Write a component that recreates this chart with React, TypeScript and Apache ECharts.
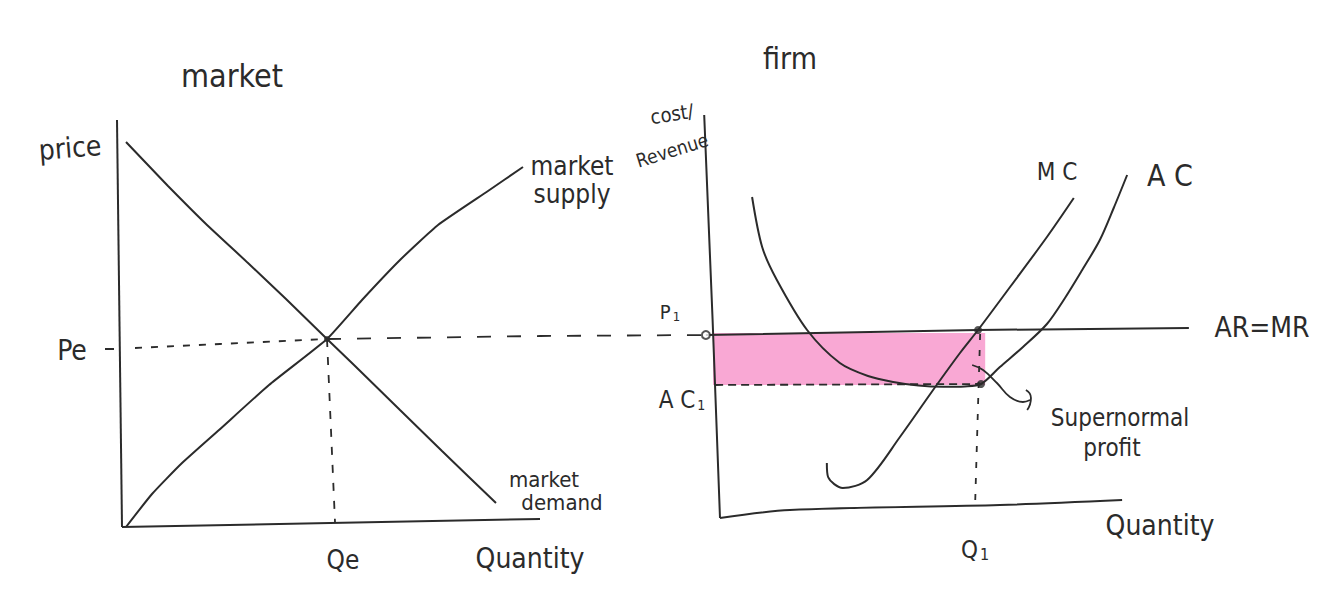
import React, { useEffect, useRef } from "react";
import * as echarts from "echarts";

// ---- Market panel (left) : quantity 0..152, price 0..105 ----
const marketYAxisLine = [[4.25, 102.5], [5.5, 0.75]];
const marketXAxisLine = [[5.5, 0.75], [57.5, 1.75], [110, 2.75]];
const marketDemand = [
  [6.5, 97], [11.75, 91.5], [17, 86], [26.5, 76.5], [37, 66.75], [46.5, 57.75],
  [56.75, 47.75], [63.5, 41.25], [75, 30], [85.5, 19.75], [99, 6.75],
];
const marketSupply = [
  [6.5, 0.75], [13, 9], [20.25, 16.5], [29.75, 25], [42.25, 36.25], [56.75, 47.75],
  [65.5, 57.5], [75, 67.5], [84.5, 76.25], [97, 84.75], [105.75, 90.75],
];
const equilibrium = [56.75, 47.75];
const peDashLeft = [[8.75, 45.5], [30, 46.5], [56.75, 47.75]];
const peDashRight = [[56.75, 47.75], [110, 48.5], [151.5, 48.75]];
const qeDash = [[56.75, 47.75], [58.75, 2]];
const peTick = [[1.25, 45.25], [3.5, 45.25]];

// ---- Firm panel (right) : quantity 0..120, cost/revenue 0..100 ----
const firmYAxisLine = [[1, 101.25], [3, 50], [4.76, 0.5]];
const firmXAxisLine = [[4.76, 0.5], [21.4, 2.5], [71.4, 3.75], [100.5, 5]];
const arMr = [[1.4, 46.25], [66.2, 47.5], [116.4, 48]];
const mc = [
  [30.2, 14.25], [30.5, 10.75], [34, 8], [39.8, 10], [47.6, 20.75], [55.5, 32.5], [61.9, 41.75],
  [66.2, 47.5], [74, 58.5], [82.6, 70.75], [89, 80.5],
];
const ac = [
  [12.4, 80.75], [14.8, 68.25], [18.3, 60], [25.5, 47.5], [33.3, 39.25], [40, 36], [46, 34.5],
  [52, 33.6], [58, 33.3], [63, 33.4], [66.9, 34], [71.4, 38.25], [76.9, 43.25], [82.6, 49],
  [86.9, 55.5], [91, 62.5], [95.2, 70], [98.5, 78], [101.7, 86.25],
];
const p1Point = [1.4, 46.25];
const q1Point = [66.2, 47.5];
const ac1Point = [66.9, 34];
const ac1Dash = [[3.6, 33.75], [66.9, 34]];
const q1Dash = [[66.7, 46.5], [65.5, 3.75]];
const profitBox = [[3.1, 46.75], [67.9, 33.75]];
const profitArrow = [[64.8, 38.75], [67.4, 37.5], [70.7, 34.25], [73.8, 30.75], [76.9, 29.5], [78.6, 30]];
const profitArrowHead = [[77.6, 32.5], [78.8, 30.5], [77.9, 27.5]];

const INK = "#2b2b2b";
const FONT = "'Liberation Sans Narrow','DejaVu Sans Condensed','Open Sans',sans-serif";

function line(data: number[][], idx: number, opts: any = {}) {
  return {
    type: "line",
    xAxisIndex: idx,
    yAxisIndex: idx,
    data,
    smooth: opts.smooth ?? 0.35,
    symbol: "none",
    clip: false,
    silent: true,
    z: 3,
    lineStyle: { color: INK, width: opts.width ?? 2, type: opts.type ?? "solid" },
  };
}

function txt(text: string, x: number, y: number, size: number, extra: any = {}) {
  return {
    type: "text",
    x,
    y,
    style: {
      text,
      fontFamily: FONT,
      fontSize: size,
      fill: INK,
      align: "center",
      verticalAlign: "middle",
      lineHeight: extra.lineHeight ?? size,
    },
    rotation: extra.rotation ?? 0,
  };
}

function sub(main: string, idx: string, x: number, y: number, size: number, subSize: number, pad: number) {
  return {
    type: "text",
    x,
    y,
    style: {
      text: `{a|${main}}{b|${idx}}`,
      fontFamily: FONT,
      fill: INK,
      align: "center",
      verticalAlign: "middle",
      rich: {
        a: { fontSize: size, fontFamily: FONT, fill: INK },
        b: { fontSize: subSize, fontFamily: FONT, fill: INK, padding: [pad, 0, 0, 2] },
      },
    },
  };
}

export default function App() {
  const ref = useRef<HTMLDivElement>(null);
  useEffect(() => {
    document.body.style.margin = "0";
    const chart = echarts.init(ref.current!, null, { renderer: "svg" });
    chart.setOption({
      animation: false,
      backgroundColor: "#ffffff",
      grid: [
        { left: 100, top: 110, width: 608, height: 420 },
        { left: 700, top: 120, width: 504, height: 400 },
      ],
      xAxis: [
        { type: "value", gridIndex: 0, min: 0, max: 152, show: false },
        { type: "value", gridIndex: 1, min: 0, max: 120, show: false },
      ],
      yAxis: [
        { type: "value", gridIndex: 0, min: 0, max: 105, show: false },
        { type: "value", gridIndex: 1, min: 0, max: 100, show: false },
      ],
      series: [
        {
          type: "line",
          xAxisIndex: 1,
          yAxisIndex: 1,
          data: [],
          z: 1,
          markArea: {
            silent: true,
            itemStyle: { color: "#f9a8d4", opacity: 1 },
            data: [[{ coord: profitBox[0] }, { coord: profitBox[1] }]],
          },
        },
        line(marketYAxisLine, 0, { smooth: false }),
        line(marketXAxisLine, 0, { smooth: false }),
        line(marketDemand, 0, { smooth: 0.15 }),
        line(marketSupply, 0, { smooth: 0.15 }),
        line(peDashLeft, 0, { type: [7, 9], width: 1.8, smooth: false }),
        line(peDashRight, 0, { type: [14, 16], width: 1.8, smooth: false }),
        line(qeDash, 0, { type: [8, 10], width: 1.8, smooth: false }),
        line(peTick, 0, { smooth: false }),
        {
          type: "scatter",
          xAxisIndex: 0,
          yAxisIndex: 0,
          data: [equilibrium],
          symbolSize: 6,
          itemStyle: { color: INK },
          silent: true,
          z: 4,
        },
        line(firmYAxisLine, 1, { smooth: false }),
        line(firmXAxisLine, 1, { smooth: 0.3 }),
        line(arMr, 1, { smooth: false }),
        line(mc, 1, { smooth: 0.3 }),
        line(ac, 1, { smooth: 0.3 }),
        line(ac1Dash, 1, { type: [8, 5], width: 1.8, smooth: false }),
        line(q1Dash, 1, { type: [6, 10], width: 1.8, smooth: false }),
        line(profitArrow, 1, { smooth: 0.4, width: 1.8 }),
        line(profitArrowHead, 1, { smooth: 0.6, width: 1.8 }),
        {
          type: "scatter",
          xAxisIndex: 1,
          yAxisIndex: 1,
          data: [q1Point, ac1Point],
          symbolSize: 8,
          itemStyle: { color: INK },
          silent: true,
          z: 4,
        },
        {
          type: "scatter",
          xAxisIndex: 1,
          yAxisIndex: 1,
          data: [p1Point],
          symbol: "emptyCircle",
          symbolSize: 8,
          itemStyle: { color: INK, borderColor: INK, borderWidth: 2 },
          silent: true,
          z: 4,
        },
      ],
      graphic: [
        txt("market", 232, 76, 32),
        txt("price", 70, 148, 28, { rotation: 0.08 }),
        txt("market\nsupply", 572, 180, 26, { lineHeight: 28 }),
        txt("market", 544, 479, 22),
        txt("demand", 562, 502, 22),
        txt("Pe", 72, 350, 28),
        txt("Qe", 343, 560, 26),
        txt("Quantity", 530, 558, 28),
        txt("firm", 790, 58, 30),
        txt("cost/", 672, 114, 20, { rotation: 0.15 }),
        txt("Revenue", 672, 150, 19, { rotation: 0.3 }),
        sub("P", "1", 670, 312, 20, 13, 8),
        sub("A C", "1", 682, 400, 24, 14, 10),
        sub("Q", "1", 975, 550, 24, 16, 8),
        txt("AR=MR", 1262, 327, 28),
        txt("M C", 1057, 172, 24),
        txt("A C", 1170, 175, 30),
        txt("Supernormal", 1120, 418, 24),
        txt("profit", 1112, 448, 24),
        txt("Quantity", 1160, 525, 28),
      ],
    });
    return () => chart.dispose();
  }, []);
  return <div ref={ref} style={{ width: 1334, height: 613 }} />;
}
